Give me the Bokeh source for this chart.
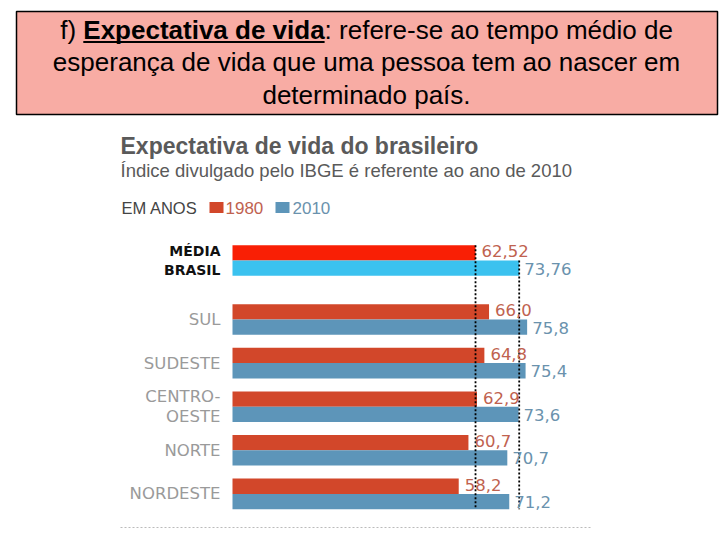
from bokeh.plotting import figure
from bokeh.models import Range1d
from bokeh.core.properties import value
from bokeh.embed import file_html
from bokeh.resources import INLINE

# ---------------- data ----------------
regions = ["MÉDIA\nBRASIL", "SUL", "SUDESTE", "CENTRO-\nOESTE", "NORTE", "NORDESTE"]
v1980 = [62.52, 66.0, 64.8, 62.9, 60.7, 58.2]
v2010 = [73.76, 75.8, 75.4, 73.6, 70.7, 71.2]
lab1980 = ["62,52", "66,0", "64,8", "62,9", "60,7", "58,2"]
lab2010 = ["73,76", "75,8", "75,4", "73,6", "70,7", "71,2"]
years = ["1980", "2010"]

# ---------------- layout constants (pixels) ----------------
W, H = 720, 540
BAR_X0 = 232          # pixel where 0 years sits
PX_PER_YEAR = 3.887
BAR_H = 15.3
FIRST_MID = 260.0
PITCH = 43.6
EXTRA_GAP = 15.4

C_AVG_1980, C_AVG_2010 = "#f91f05", "#3bc2ef"
C_1980, C_2010 = "#d2472a", "#5d95b9"
C_LAB_1980, C_LAB_2010 = "#c0624f", "#6a92ad"

p = figure(width=W, height=H, output_backend="svg", toolbar_location=None,
           x_range=Range1d(0, W), y_range=Range1d(H, 0),
           x_axis_location=None, y_axis_location=None,
           min_border=0, outline_line_color=None)
p.grid.visible = False
val_start = -BAR_X0 / PX_PER_YEAR
p.extra_x_ranges = {"val": Range1d(val_start, val_start + W / PX_PER_YEAR)}

FONT = value("Liberation Sans")
WIDE = value("DejaVu Sans")

# ---------------- header box ----------------
HS = 26  # header font size
p.quad(left=[16], right=[717], top=[11], bottom=[114], fill_color="#f8aca4",
       line_color="black", line_width=1.5)
B0, B1 = 82.8, 324.1   # bold phrase extent
p.text(x=[B0], y=[29.2], text=["f) "], text_font=FONT, text_font_size=value(f"{HS}px"),
       text_align="right", text_baseline="middle", text_color="black")
p.text(x=[B0], y=[29.2], text=["Expectativa de vida"], text_font=FONT,
       text_font_size=value(f"{HS}px"), text_font_style="bold",
       text_align="left", text_baseline="middle", text_color="black")
p.segment(x0=[B0], x1=[B1], y0=[41.5], y1=[41.5], line_color="black", line_width=2)
p.text(x=[B1], y=[29.2], text=[": refere-se ao tempo médio de"], text_font=FONT,
       text_font_size=value(f"{HS}px"), text_align="left", text_baseline="middle",
       text_color="black")
p.text(x=[366, 366], y=[61.8, 94.5],
       text=["esperança de vida que uma pessoa tem ao nascer em", "determinado país."],
       text_font=FONT, text_font_size=value(f"{HS}px"), text_align="center",
       text_baseline="middle", text_color="black")

# ---------------- chart header ----------------
p.text(x=[120], y=[145.5], text=["Expectativa de vida do brasileiro"], text_font=FONT,
       text_font_size=value("23px"), text_font_style="bold", text_color="#5a5a5a",
       text_baseline="middle")
p.text(x=[120], y=[169.5], text=["Índice divulgado pelo IBGE é referente ao ano de 2010"],
       text_font=FONT, text_font_size=value("18.5px"), text_color="#5a5a5a",
       text_baseline="middle")
p.text(x=[121], y=[207], text=["EM ANOS"], text_font=FONT,
       text_font_size=value("16.5px"), text_color="#444444", text_baseline="middle")
p.quad(left=[209, 275], right=[223, 289], top=[201.5, 201.5], bottom=[212.5, 212.5],
       fill_color=[C_1980, C_2010], line_color=None)
p.text(x=[225, 292], y=[207, 207], text=years, text_font=FONT,
       text_font_size=value("17px"), text_color=[C_LAB_1980, C_LAB_2010],
       text_baseline="middle")

# ---------------- bars ----------------
mids = [FIRST_MID + i * PITCH + (EXTRA_GAP if i > 0 else 0) for i in range(len(regions))]
y80 = [m - BAR_H / 2 for m in mids]
y10 = [m + BAR_H / 2 for m in mids]
col80 = [C_AVG_1980] + [C_1980] * (len(regions) - 1)
col10 = [C_AVG_2010] + [C_2010] * (len(regions) - 1)

p.hbar(y=y80, left=0, right=v1980, height=BAR_H, fill_color=col80, line_color=None,
       x_range_name="val")
p.hbar(y=y10, left=0, right=v2010, height=BAR_H, fill_color=col10, line_color=None,
       x_range_name="val")

# reference dotted lines (Brazil average)
top = mids[0] - BAR_H
bot = mids[-1] + BAR_H
p.segment(x0=[v1980[0], v2010[0]], x1=[v1980[0], v2010[0]], y0=[top, mids[0]],
          y1=[bot, bot], line_color="black", line_width=1.8, line_dash="2 2",
          x_range_name="val")

# value labels
p.text(x=v1980, y=[y - 1.5 for y in y80], text=lab1980, x_range_name="val", x_offset=6,
       text_font=WIDE, text_font_size=value("16.5px"), text_color=C_LAB_1980,
       text_baseline="middle")
p.text(x=v2010, y=[y + 0.5 for y in y10], text=lab2010, x_range_name="val", x_offset=5,
       text_font=WIDE, text_font_size=value("16.5px"), text_color=C_LAB_2010,
       text_baseline="middle")

# region labels
p.text(x=[220], y=[mids[0]], text=[regions[0]], text_font=WIDE,
       text_font_size=value("14px"), text_font_style="bold", text_color="#111111",
       text_align="right", text_baseline="middle", text_line_height=1.2)
p.text(x=[220] * (len(regions) - 1), y=mids[1:], text=regions[1:], text_font=WIDE,
       text_font_size=value("16.5px"), text_color="#9a9a9a",
       text_align="right", text_baseline="middle", text_line_height=1.05)

# bottom dotted rule
p.segment(x0=[120], x1=[590], y0=[527], y1=[527], line_color="#bbbbbb",
          line_width=1, line_dash="2 2")

open("out.html", "w").write(file_html(p, INLINE))
